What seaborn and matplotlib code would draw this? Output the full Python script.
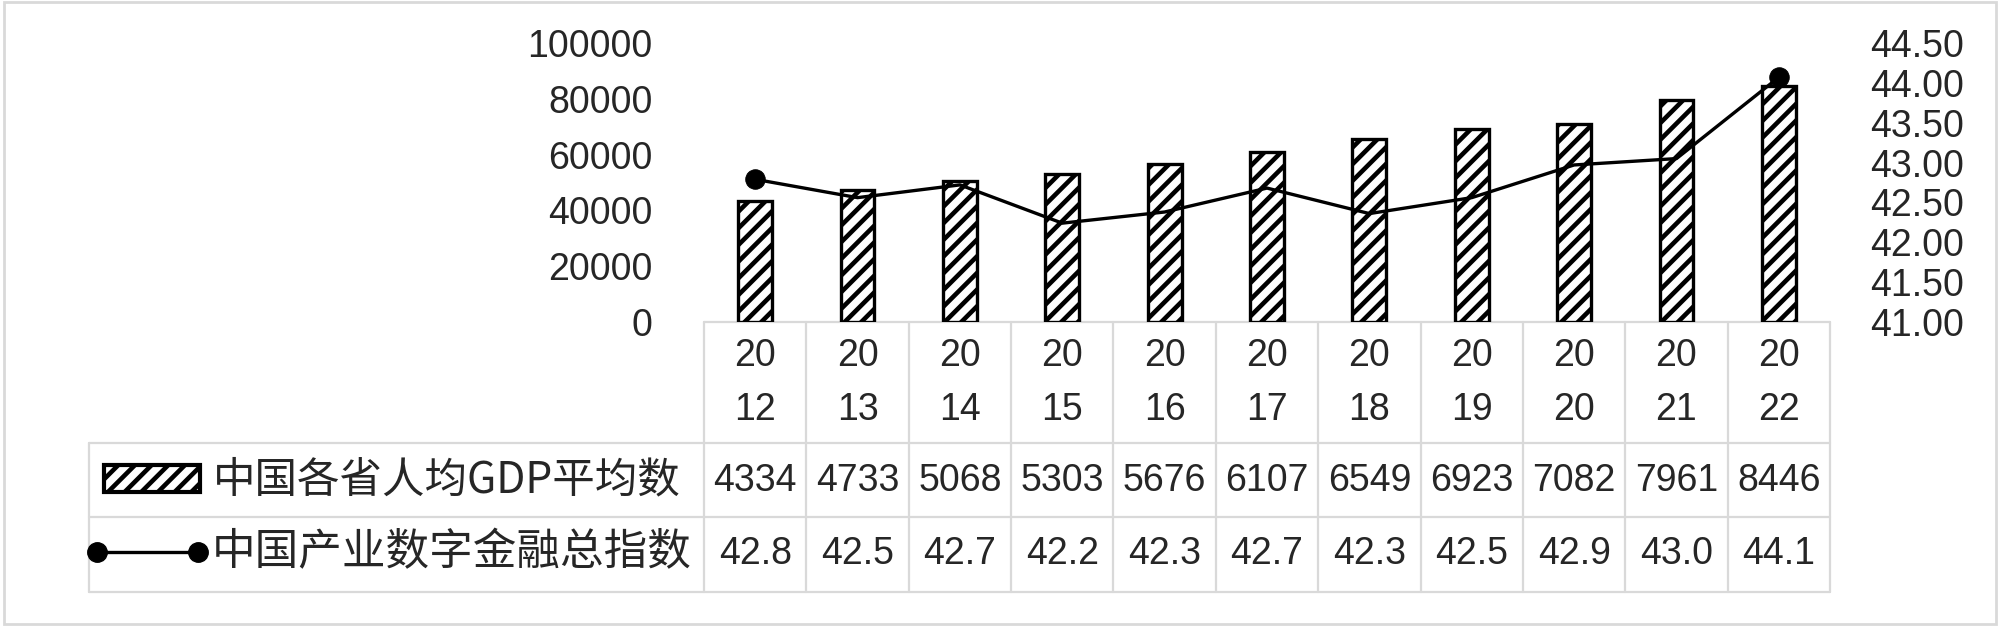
import numpy as np
import matplotlib
matplotlib.use("Agg")
import matplotlib.pyplot as plt
import matplotlib.transforms as mtransforms
from matplotlib.patches import Rectangle
from matplotlib.lines import Line2D
import seaborn as sns
import pandas as pd

# ---- data ----
years = ["2012", "2013", "2014", "2015", "2016", "2017", "2018", "2019", "2020", "2021", "2022"]
gdp_avg = [43340, 47330, 50680, 53030, 56760, 61070, 65490, 69230, 70820, 79610, 84460]
gdp_table = ["4334", "4733", "5068", "5303", "5676", "6107", "6549", "6923", "7082", "7961", "8446"]
fin_index = [42.79, 42.56, 42.72, 42.24, 42.38, 42.68, 42.36, 42.56, 42.97, 43.05, 44.07]
fin_table = ["42.8", "42.5", "42.7", "42.2", "42.3", "42.7", "42.3", "42.5", "42.9", "43.0", "44.1"]
series_names = ["中国各省人均GDP平均数", "中国产业数字金融总指数"]
left_ticks = [0, 20000, 40000, 60000, 80000, 100000]
right_ticks = [41.0, 41.5, 42.0, 42.5, 43.0, 43.5, 44.0, 44.5]

sns.set_theme(style="white")
plt.rcParams["font.family"] = ["Liberation Sans", "Noto Sans CJK SC", "DejaVu Sans"]
plt.rcParams["hatch.linewidth"] = 3.3
plt.rcParams["hatch.color"] = "black"

W, H = 2000, 628
fig = plt.figure(figsize=(W / 100, H / 100), dpi=100)
fig.patch.set_facecolor("white")

# background overlay axes in pixel coords
bg = fig.add_axes([0, 0, 1, 1], zorder=-1)
bg.set_xlim(0, W)
bg.set_ylim(H, 0)
bg.axis("off")

x0, x1, ytop, ybot = 704, 1830, 43, 322
ax = fig.add_axes([x0 / W, (H - ybot) / H, (x1 - x0) / W, (ybot - ytop) / H])

df = pd.DataFrame({"year": years, "gdp": gdp_avg, "idx": fin_index})
sns.barplot(data=df, x="year", y="gdp", ax=ax, color="white", edgecolor="black",
            linewidth=2.4, width=0.33, saturation=1)
for p in ax.patches:
    p.set_hatch("//")
    p.set_facecolor("white")
    p.set_edgecolor("black")

ax.set_ylim(0, 100000)
ax.set_xlim(-0.5, len(years) - 0.5)
ax.set_yticks(left_ticks)
ax.set_yticklabels([str(t) for t in left_ticks], fontsize=27)
ax.set_xticks([])
ax.set_xlabel("")
ax.set_ylabel("")
ax.tick_params(axis="y", length=0, pad=37)
for s in ax.spines.values():
    s.set_visible(False)
ax.patch.set_alpha(0)

ax2 = ax.twinx()
df["pos"] = np.arange(len(years))
sns.lineplot(data=df, x="pos", y="idx", ax=ax2, color="black", linewidth=2.4,
             marker="o", markersize=14, markevery=[0, len(years) - 1],
             markeredgecolor="black", markerfacecolor="black")
ax2.set_ylim(41, 44.5)
ax2.set_xlim(-0.5, len(years) - 0.5)
ax2.set_yticks(right_ticks)
ax2.set_yticklabels([f"{t:.2f}" for t in right_ticks], fontsize=27)
ax2.tick_params(axis="y", length=0, pad=29)
ax2.set_xlabel("")
ax2.set_ylabel("")
for s in ax2.spines.values():
    s.set_visible(False)

# ---- data table ----
tr = mtransforms.blended_transform_factory(ax.transData, bg.transData)
grid_c = "#d9d9d9"
glw = 1.6
n = len(years)
row_top, row1, row2, row3 = 322, 443, 517, 592
left_tab = 89

for i in range(n + 1):
    xb = i - 0.5
    bg.add_line(Line2D([xb, xb], [row_top, row3], transform=tr, color=grid_c, lw=glw, zorder=1))
bg.add_line(Line2D([-0.5, n - 0.5], [row_top, row_top], transform=tr, color=grid_c, lw=glw))
for yy in (row1, row2, row3):
    bg.add_line(Line2D([left_tab, x1], [yy, yy], color=grid_c, lw=glw))
bg.add_line(Line2D([left_tab, left_tab], [row1, row3], color=grid_c, lw=glw))

for i, y in enumerate(years):
    bg.text(i, 356, y[:2], transform=tr, ha="center", va="center", fontsize=27)
    bg.text(i, 410, y[2:], transform=tr, ha="center", va="center", fontsize=27)
    bg.text(i, 481, gdp_table[i], transform=tr, ha="center", va="center", fontsize=27)
    bg.text(i, 554, fin_table[i], transform=tr, ha="center", va="center", fontsize=27)

# legend keys
bg.add_patch(Rectangle((104, 465), 96, 27, facecolor="white", edgecolor="black",
                       hatch="//", lw=3.0))
bg.add_line(Line2D([97, 198], [552, 552], color="black", lw=2.4, marker="o",
                   markersize=14, markerfacecolor="black", markeredgecolor="black"))
bg.text(213, 480, series_names[0], ha="left", va="center", fontsize=30.6,
        family=["Noto Sans CJK SC", "DejaVu Sans"])
bg.text(212, 553, series_names[1], ha="left", va="center", fontsize=31.4,
        family=["Noto Sans CJK SC", "DejaVu Sans"])

# outer border
bg.add_patch(Rectangle((4, 2), 1992, 622, facecolor="none", edgecolor=grid_c, lw=2))

fig.savefig("out.png", dpi=100)
